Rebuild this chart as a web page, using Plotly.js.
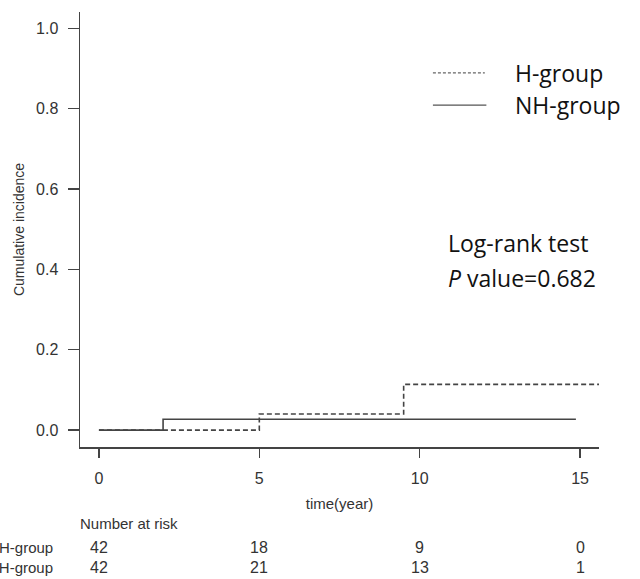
<!DOCTYPE html>
<html>
<head>
<meta charset="utf-8">
<script src="https://cdn.plot.ly/plotly-3.0.1.min.js"></script>
<style>html,body{margin:0;padding:0;background:#fff;}#chart{width:640px;height:579px;}</style>
</head>
<body>
<div id="chart"></div>
<script>
// ---- data ----
var hTime = [0, 5, 9.5, 15.6];
var hInc = [0, 0.040, 0.114, 0.114];
var nhTime = [0, 2, 14.87];
var nhInc = [0, 0.027, 0.027];

var xTicks = [0, 5, 10, 15];
var yTicks = [0, 0.2, 0.4, 0.6, 0.8, 1.0];
var yTickText = ["0.0", "0.2", "0.4", "0.6", "0.8", "1.0"];

var groupNames = ["H-group", "NH-group"];
var riskTimes = [0, 5, 10, 15];
var hRisk = [42, 18, 9, 0];
var nhRisk = [42, 21, 13, 1];

// ---- layout constants ----
var axisFont = {family: "Liberation Sans, Arial, sans-serif", size: 16, color: "#333"};
var smallFont = {family: "Liberation Sans, Arial, sans-serif", size: 15, color: "#333"};
var bigFont = {family: "Open Sans, sans-serif", size: 23, color: "#111"};
var lineColor = "#444";

var traces = [
  {x: hTime, y: hInc, mode: "lines", line: {shape: "hv", dash: "5px,3px", color: lineColor, width: 1.6}, name: groupNames[0], showlegend: false, cliponaxis: false},
  {x: nhTime, y: nhInc, mode: "lines", line: {shape: "hv", color: lineColor, width: 1.6}, name: groupNames[1], showlegend: false}
];

var annotations = [];
// legend text
annotations.push({xref: "paper", yref: "paper", x: 0.834, y: 0.860, xanchor: "left", yanchor: "middle", text: groupNames[0], showarrow: false, font: bigFont});
annotations.push({xref: "paper", yref: "paper", x: 0.834, y: 0.786, xanchor: "left", yanchor: "middle", text: groupNames[1], showarrow: false, font: bigFont});
// log-rank
annotations.push({xref: "paper", yref: "paper", x: 0.706, y: 0.469, xanchor: "left", yanchor: "middle", text: "Log-rank test", showarrow: false, font: bigFont});
annotations.push({xref: "paper", yref: "paper", x: 0.706, y: 0.389, xanchor: "left", yanchor: "middle", text: "<i>P</i> value=0.682", showarrow: false, font: bigFont});
// risk table
annotations.push({xref: "paper", yref: "paper", x: -0.004, y: -0.177, xanchor: "left", yanchor: "middle", text: "Number at risk", showarrow: false, font: smallFont});
annotations.push({xref: "paper", yref: "paper", x: -0.048, y: -0.232, xanchor: "right", yanchor: "middle", text: groupNames[0], showarrow: false, font: smallFont});
annotations.push({xref: "paper", yref: "paper", x: -0.048, y: -0.276, xanchor: "right", yanchor: "middle", text: groupNames[1], showarrow: false, font: smallFont});
for (var i = 0; i < riskTimes.length; i++) {
  annotations.push({xref: "x", yref: "paper", x: riskTimes[i], y: -0.232, xanchor: "center", yanchor: "middle", text: String(hRisk[i]), showarrow: false, font: axisFont});
  annotations.push({xref: "x", yref: "paper", x: riskTimes[i], y: -0.276, xanchor: "center", yanchor: "middle", text: String(nhRisk[i]), showarrow: false, font: axisFont});
}

var shapes = [
  {type: "line", xref: "paper", yref: "paper", x0: 0.680, x1: 0.780, y0: 0.860, y1: 0.860, line: {color: "#666", width: 1.2, dash: "3px,2px"}},
  {type: "line", xref: "paper", yref: "paper", x0: 0.680, x1: 0.783, y0: 0.786, y1: 0.786, line: {color: "#555", width: 1.3}}
];

var layout = {
  width: 640, height: 579,
  margin: {l: 80, r: 41, t: 12, b: 132},
  paper_bgcolor: "#fff", plot_bgcolor: "#fff",
  showlegend: false,
  font: axisFont,
  xaxis: {
    range: [-0.59, 15.59], tickvals: xTicks, ticktext: xTicks.map(String),
    showline: true, linecolor: lineColor, linewidth: 1.5, mirror: false,
    ticks: "outside", ticklen: 9, tickwidth: 1.3, tickcolor: lineColor,
    showgrid: false, zeroline: false, ticklabelstandoff: 7,
    tickfont: axisFont,
    title: {text: "time(year)", font: smallFont, standoff: 13}
  },
  yaxis: {
    range: [-0.042, 1.041], tickvals: yTicks, ticktext: yTickText,
    showline: true, linecolor: lineColor, linewidth: 1.5, mirror: false,
    ticks: "outside", ticklen: 11, tickwidth: 1.3, tickcolor: lineColor,
    showgrid: false, zeroline: false, ticklabelstandoff: 6,
    tickfont: axisFont,
    title: {text: "Cumulative incidence", font: {family: axisFont.family, size: 14, color: "#333"}, standoff: 8}
  },
  annotations: annotations,
  shapes: shapes
};

Plotly.newPlot("chart", traces, layout, {staticPlot: true, displayModeBar: false});
</script>
</body>
</html>
